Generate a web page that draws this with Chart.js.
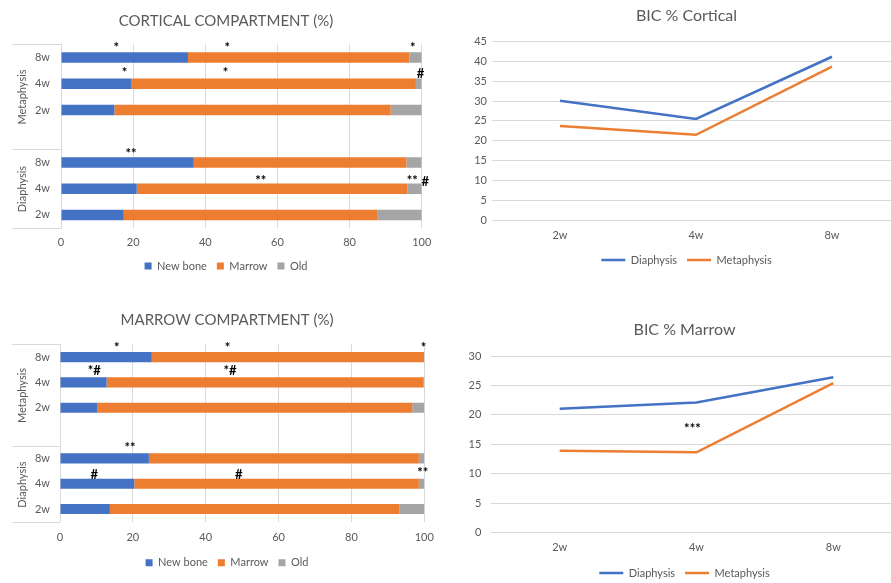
<!DOCTYPE html>
<html>
<head>
<meta charset="utf-8">
<title>Compartments and BIC</title>
<script src="https://cdn.jsdelivr.net/npm/chart.js@4.4.1/dist/chart.umd.min.js"></script>
<style>
    html, body { margin: 0; padding: 0; background: #fff; overflow: hidden; }
    #page { position: relative; width: 891px; height: 583px; overflow: hidden; }
    canvas { position: absolute; }
</style>
</head>
<body>
<div id="page">
    <canvas id="cortBars" width="445" height="290" style="left:0;top:0"></canvas>
    <canvas id="marrowBars" width="445" height="293" style="left:0;top:290px"></canvas>
    <canvas id="bicCortical" width="455" height="290" style="left:450px;top:0"></canvas>
    <canvas id="bicMarrow" width="455" height="305" style="left:450px;top:290px"></canvas>
</div>
<script>
// Bar rows (top to bottom), blank row separates the two regions
const rowLabels = ['8w', '4w', '2w', '', '8w', '4w', '2w'];
const groupNames = ['Metaphysis', 'Diaphysis'];
const groupSpans = [[0, 3], [4, 6]];

// Cortical compartment (%)
const cortNewBone = [35.2, 19.4, 14.8, null, 36.8, 21.0, 17.4];
const cortMarrow = [61.4, 79.0, 76.6, null, 59.0, 75.0, 70.4];
const cortOld = [3.4, 1.6, 8.6, null, 4.2, 4.0, 12.2];

// Marrow compartment (%)
const marNewBone = [25.2, 12.8, 10.3, null, 24.4, 20.4, 13.7];
const marMarrow = [74.8, 86.9, 86.4, null, 74.1, 78.1, 79.4];
const marOld = [0, 0.3, 3.3, null, 1.5, 1.5, 6.9];

// BIC lines
const weeks = ['2w', '4w', '8w'];
const bicCortDia = [30.1, 25.5, 41.2];
const bicCortMeta = [23.7, 21.5, 38.7];
const bicMarDia = [21.05, 22.1, 26.4];
const bicMarMeta = [13.9, 13.65, 25.4];

// Significance marks: text, value on x, row index on y
const cortMarks = [
    ['*', 15.3, -0.5], ['*', 46.1, -0.5], ['*', 97.5, -0.5],
    ['*', 17.6, 0.48], ['*', 45.6, 0.48], ['#', 99.7, 0.61],
    ['**', 19.4, 3.54], ['**', 55.4, 4.58], ['**', 97.4, 4.58], ['#', 101, 4.73]
];
const marMarks = [
    ['*', 15.6, -0.5], ['*', 46.0, -0.5], ['*', 99.8, -0.5],
    ['*#', 9.4, 0.56], ['*#', 46.7, 0.56],
    ['**', 19.2, 3.45], ['#', 9.4, 4.64], ['#', 49.1, 4.64], ['**', 99.6, 4.47]
];
const bicMarMarks = [['***', 0.97, 18.2]];

const BLUE = '#4472C4';
const ORANGE = '#ED7D31';
const GRAY = '#A5A5A5';
const TEXT = '#595959';
const GRID = '#d9d9d9';
const FONT = 'Lato, "Open Sans", sans-serif';

Chart.defaults.font.family = FONT;
Chart.defaults.color = TEXT;

// Draws region brackets and rotated region names left of the bar rows
const groupBrackets = {
    id: 'groupBrackets',
    afterDraw(chart) {
        const { ctx, chartArea, scales: { y } } = chart;
        ctx.save();
        ctx.strokeStyle = GRID;
        ctx.lineWidth = 1;
        ctx.fillStyle = TEXT;
        ctx.font = '11px ' + FONT;
        ctx.textAlign = 'center';
        ctx.textBaseline = 'middle';
        groupSpans.forEach((span, i) => {
            const top = Math.round(y.getPixelForValue(span[0] - 0.5)) + 0.5;
            const bottom = Math.round(y.getPixelForValue(span[1] + 0.5)) + 0.5;
            ctx.beginPath();
            ctx.moveTo(12, top);
            ctx.lineTo(chartArea.left, top);
            ctx.moveTo(12, bottom);
            ctx.lineTo(chartArea.left, bottom);
            ctx.stroke();
            ctx.save();
            ctx.translate(22, (top + bottom) / 2);
            ctx.rotate(-Math.PI / 2);
            ctx.fillText(groupNames[i], 0, 0);
            ctx.restore();
        });
        ctx.restore();
    }
};

// Draws the significance symbols
const sigMarks = {
    id: 'sigMarks',
    afterDatasetsDraw(chart, args, opts) {
        const { ctx, scales: { x, y } } = chart;
        ctx.save();
        ctx.fillStyle = '#000';
        ctx.textAlign = 'center';
        ctx.textBaseline = 'middle';
        ctx.font = 'bold 13px ' + FONT;
        (opts.marks || []).forEach(m => {
            const onlyStars = !m[0].includes('#');
            const px = x.getPixelForValue(m[1]);
            const py = y.getPixelForValue(m[2]) + (onlyStars ? 3 : 0);
            ctx.fillText(m[0], px, py);
        });
        ctx.restore();
    }
};

function makeBarChart(id, title, newBone, marrow, old, marks, cfg) {
    const ctx = document.getElementById(id).getContext('2d');
    return new Chart(ctx, {
        type: 'bar',
        data: {
            labels: rowLabels,
            datasets: [
                { label: 'New bone', data: newBone, backgroundColor: BLUE },
                { label: 'Marrow', data: marrow, backgroundColor: ORANGE },
                { label: 'Old', data: old, backgroundColor: GRAY }
            ]
        },
        options: {
            indexAxis: 'y',
            responsive: false,
            animation: false,
            datasets: { bar: { categoryPercentage: 1, barPercentage: 0.4 } },
            layout: { padding: cfg.padding },
            plugins: {
                title: {
                    display: true,
                    text: title,
                    color: TEXT,
                    font: { size: 15, weight: 'normal' },
                    padding: cfg.titlePadding
                },
                legend: {
                    position: 'bottom',
                    labels: { boxWidth: 7, boxHeight: 7, padding: 10, color: TEXT, font: { size: 11 } }
                },
                tooltip: { enabled: false },
                sigMarks: { marks: marks }
            },
            scales: {
                x: {
                    stacked: true,
                    min: 0,
                    max: 100,
                    ticks: { stepSize: 20, color: TEXT, font: { size: 11 }, padding: cfg.xPad },
                    grid: { color: GRID, drawTicks: false },
                    border: { display: false },
                    afterFit(scale) { scale.height = cfg.xHeight; }
                },
                y: {
                    stacked: true,
                    ticks: { color: TEXT, font: { size: 11 }, padding: cfg.yPad },
                    grid: { display: false, drawTicks: false },
                    border: { display: true, color: GRID },
                    afterFit(scale) { scale.width = cfg.yWidth; }
                }
            }
        },
        plugins: [groupBrackets, sigMarks]
    });
}

function makeLineChart(id, title, dia, meta, marks, cfg) {
    const ctx = document.getElementById(id).getContext('2d');
    return new Chart(ctx, {
        type: 'line',
        data: {
            labels: weeks,
            datasets: [
                { label: 'Diaphysis', data: dia, borderColor: BLUE, backgroundColor: BLUE, borderWidth: 2.5, pointRadius: 0, tension: 0 },
                { label: 'Metaphysis', data: meta, borderColor: ORANGE, backgroundColor: ORANGE, borderWidth: 2.5, pointRadius: 0, tension: 0 }
            ]
        },
        options: {
            responsive: false,
            animation: false,
            layout: { padding: cfg.padding },
            plugins: {
                title: {
                    display: true,
                    text: title,
                    color: TEXT,
                    font: { size: 16, weight: 'normal' },
                    padding: cfg.titlePadding
                },
                legend: {
                    position: 'bottom',
                    labels: {
                        usePointStyle: true,
                        pointStyle: 'line',
                        pointStyleWidth: 24,
                        padding: 10,
                        color: TEXT,
                        font: { size: 11 }
                    }
                },
                tooltip: { enabled: false },
                sigMarks: { marks: marks }
            },
            scales: {
                x: {
                    offset: true,
                    ticks: { color: TEXT, font: { size: 11 }, padding: cfg.xPad },
                    grid: { display: false, drawTicks: false },
                    border: { display: false },
                    afterFit(scale) { scale.height = cfg.xHeight; }
                },
                y: {
                    min: 0,
                    max: cfg.yMax,
                    ticks: { stepSize: 5, color: TEXT, font: { size: 11 }, padding: cfg.yPad },
                    grid: { color: GRID, drawTicks: false },
                    border: { display: false },
                    afterFit(scale) { scale.width = cfg.yWidth; }
                }
            }
        },
        plugins: [sigMarks]
    });
}

document.addEventListener('DOMContentLoaded', function () {
    makeBarChart('cortBars', 'CORTICAL COMPARTMENT (%)', cortNewBone, cortMarrow, cortOld, cortMarks, {
        padding: { left: 30.3, right: 23.3, top: 0, bottom: 8.5 },
        titlePadding: { top: 12.4, bottom: 14 },
        xPad: 7.5, xHeight: 22.5, yPad: 11, yWidth: 30.7
    });
    makeBarChart('marrowBars', 'MARROW COMPARTMENT (%)', marNewBone, marMarrow, marOld, marMarks, {
        padding: { left: 29.7, right: 20.7, top: 0, bottom: 4.8 },
        titlePadding: { top: 21.4, bottom: 15 },
        xPad: 9.4, xHeight: 25.5, yPad: 10, yWidth: 30.3
    });
    makeLineChart('bicCortical', 'BIC % Cortical', bicCortDia, bicCortMeta, [], {
        padding: { left: 23, right: 5, top: 0, bottom: 14.5 },
        titlePadding: { top: 6.4, bottom: 16.1 },
        xPad: 8.4, xHeight: 24.5, yPad: 5, yWidth: 19, yMax: 45
    });
    makeLineChart('bicMarrow', 'BIC % Marrow', bicMarDia, bicMarMeta, bicMarMarks, {
        padding: { left: 17.3, right: 3.3, top: 0, bottom: 6.5 },
        titlePadding: { top: 30.4, bottom: 16.4 },
        xPad: 8.4, xHeight: 24.8, yPad: 10, yWidth: 24, yMax: 30
    });
});
</script>
</body>
</html>
